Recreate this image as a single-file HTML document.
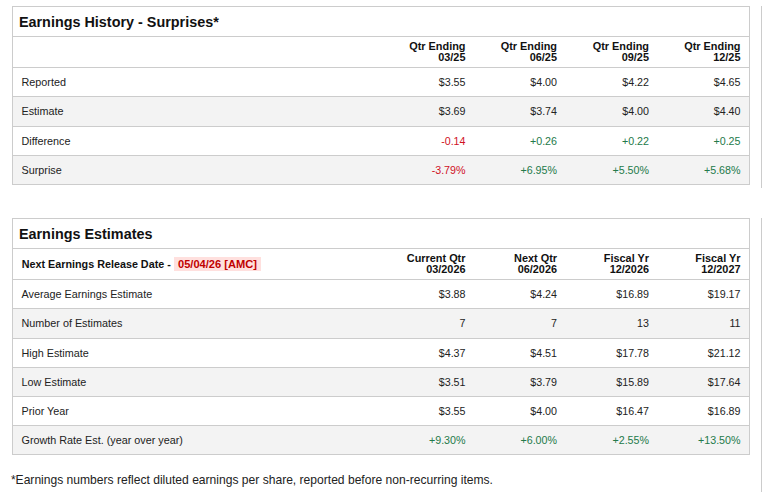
<!DOCTYPE html>
<html><head><meta charset="utf-8"><style>
html,body{margin:0;padding:0;background:#fff;width:762px;height:492px;overflow:hidden}
body{position:relative;font-family:"Liberation Sans",sans-serif}
.t{position:absolute;line-height:0;white-space:nowrap}
.box{position:absolute;left:12px;width:736px;border:1px solid #cccccc}
.hl{position:absolute;left:12px;width:738px;height:1px;background:#cccccc}
.fill{position:absolute;left:13px;width:736px;background:#f3f3f3}
.pink{position:absolute;background:#ffe0de}
</style></head><body>
<div class="box" style="top:6px;height:177px"></div>
<div class="fill" style="top:97px;height:29px"></div>
<div class="fill" style="top:156px;height:28px"></div>
<div class="hl" style="top:36px"></div>
<div class="hl" style="top:67px"></div>
<div class="hl" style="top:96px"></div>
<div class="hl" style="top:126px"></div>
<div class="hl" style="top:155px"></div>
<div class="t" style="left:18.9px;top:22.01px;font-size:14.4px;color:#111;font-weight:bold;">Earnings History - Surprises*</div>
<div class="t" style="right:296.5px;top:46.223px;font-size:10.9px;color:#111;font-weight:bold;">Qtr Ending</div>
<div class="t" style="right:296.5px;top:57.223px;font-size:10.9px;color:#111;font-weight:bold;">03/25</div>
<div class="t" style="right:205px;top:46.223px;font-size:10.9px;color:#111;font-weight:bold;">Qtr Ending</div>
<div class="t" style="right:205px;top:57.223px;font-size:10.9px;color:#111;font-weight:bold;">06/25</div>
<div class="t" style="right:113px;top:46.223px;font-size:10.9px;color:#111;font-weight:bold;">Qtr Ending</div>
<div class="t" style="right:113px;top:57.223px;font-size:10.9px;color:#111;font-weight:bold;">09/25</div>
<div class="t" style="right:21.5px;top:46.223px;font-size:10.9px;color:#111;font-weight:bold;">Qtr Ending</div>
<div class="t" style="right:21.5px;top:57.223px;font-size:10.9px;color:#111;font-weight:bold;">12/25</div>
<div class="t" style="left:21.5px;top:82.258px;font-size:10.8px;color:#222;">Reported</div>
<div class="t" style="right:296.5px;top:82.292px;font-size:10.7px;color:#222;">$3.55</div>
<div class="t" style="right:205px;top:82.292px;font-size:10.7px;color:#222;">$4.00</div>
<div class="t" style="right:113px;top:82.292px;font-size:10.7px;color:#222;">$4.22</div>
<div class="t" style="right:21.5px;top:82.292px;font-size:10.7px;color:#222;">$4.65</div>
<div class="t" style="left:21.5px;top:111.258px;font-size:10.8px;color:#222;">Estimate</div>
<div class="t" style="right:296.5px;top:111.292px;font-size:10.7px;color:#222;">$3.69</div>
<div class="t" style="right:205px;top:111.292px;font-size:10.7px;color:#222;">$3.74</div>
<div class="t" style="right:113px;top:111.292px;font-size:10.7px;color:#222;">$4.00</div>
<div class="t" style="right:21.5px;top:111.292px;font-size:10.7px;color:#222;">$4.40</div>
<div class="t" style="left:21.5px;top:141.258px;font-size:10.8px;color:#222;">Difference</div>
<div class="t" style="right:296.5px;top:141.292px;font-size:10.7px;color:#d0101e;">-0.14</div>
<div class="t" style="right:205px;top:141.292px;font-size:10.7px;color:#237a4a;">+0.26</div>
<div class="t" style="right:113px;top:141.292px;font-size:10.7px;color:#237a4a;">+0.22</div>
<div class="t" style="right:21.5px;top:141.292px;font-size:10.7px;color:#237a4a;">+0.25</div>
<div class="t" style="left:21.5px;top:170.258px;font-size:10.8px;color:#222;">Surprise</div>
<div class="t" style="right:296.5px;top:170.292px;font-size:10.7px;color:#d0101e;">-3.79%</div>
<div class="t" style="right:205px;top:170.292px;font-size:10.7px;color:#237a4a;">+6.95%</div>
<div class="t" style="right:113px;top:170.292px;font-size:10.7px;color:#237a4a;">+5.50%</div>
<div class="t" style="right:21.5px;top:170.292px;font-size:10.7px;color:#237a4a;">+5.68%</div>
<div class="box" style="top:218px;height:235px"></div>
<div class="fill" style="top:309px;height:29px"></div>
<div class="fill" style="top:368px;height:28px"></div>
<div class="fill" style="top:426px;height:28px"></div>
<div class="hl" style="top:248px"></div>
<div class="hl" style="top:279px"></div>
<div class="hl" style="top:308px"></div>
<div class="hl" style="top:338px"></div>
<div class="hl" style="top:367px"></div>
<div class="hl" style="top:396px"></div>
<div class="hl" style="top:425px"></div>
<div class="t" style="left:18.9px;top:234.01px;font-size:14.4px;color:#111;font-weight:bold;">Earnings Estimates</div>
<div class="t" style="left:21.8px;top:264.268px;font-size:10.77px;color:#111;font-weight:bold">Next Earnings Release Date - </div><div class="pink" style="left:174px;top:257px;width:87px;height:14px"></div><div class="t" style="left:178px;top:264.268px;font-size:11.1px;color:#c00000;font-weight:bold">05/04/26 [AMC]</div>
<div class="t" style="right:296.5px;top:258.223px;font-size:10.9px;color:#111;font-weight:bold;">Current Qtr</div>
<div class="t" style="right:296.5px;top:269.223px;font-size:10.9px;color:#111;font-weight:bold;">03/2026</div>
<div class="t" style="right:205px;top:258.223px;font-size:10.9px;color:#111;font-weight:bold;">Next Qtr</div>
<div class="t" style="right:205px;top:269.223px;font-size:10.9px;color:#111;font-weight:bold;">06/2026</div>
<div class="t" style="right:113px;top:258.223px;font-size:10.9px;color:#111;font-weight:bold;">Fiscal Yr</div>
<div class="t" style="right:113px;top:269.223px;font-size:10.9px;color:#111;font-weight:bold;">12/2026</div>
<div class="t" style="right:21.5px;top:258.223px;font-size:10.9px;color:#111;font-weight:bold;">Fiscal Yr</div>
<div class="t" style="right:21.5px;top:269.223px;font-size:10.9px;color:#111;font-weight:bold;">12/2027</div>
<div class="t" style="left:21.5px;top:294.258px;font-size:10.8px;color:#222;">Average Earnings Estimate</div>
<div class="t" style="right:296.5px;top:294.292px;font-size:10.7px;color:#222;">$3.88</div>
<div class="t" style="right:205px;top:294.292px;font-size:10.7px;color:#222;">$4.24</div>
<div class="t" style="right:113px;top:294.292px;font-size:10.7px;color:#222;">$16.89</div>
<div class="t" style="right:21.5px;top:294.292px;font-size:10.7px;color:#222;">$19.17</div>
<div class="t" style="left:21.5px;top:323.258px;font-size:10.8px;color:#222;">Number of Estimates</div>
<div class="t" style="right:296.5px;top:323.292px;font-size:10.7px;color:#222;">7</div>
<div class="t" style="right:205px;top:323.292px;font-size:10.7px;color:#222;">7</div>
<div class="t" style="right:113px;top:323.292px;font-size:10.7px;color:#222;">13</div>
<div class="t" style="right:21.5px;top:323.292px;font-size:10.7px;color:#222;">11</div>
<div class="t" style="left:21.5px;top:353.258px;font-size:10.8px;color:#222;">High Estimate</div>
<div class="t" style="right:296.5px;top:353.292px;font-size:10.7px;color:#222;">$4.37</div>
<div class="t" style="right:205px;top:353.292px;font-size:10.7px;color:#222;">$4.51</div>
<div class="t" style="right:113px;top:353.292px;font-size:10.7px;color:#222;">$17.78</div>
<div class="t" style="right:21.5px;top:353.292px;font-size:10.7px;color:#222;">$21.12</div>
<div class="t" style="left:21.5px;top:382.258px;font-size:10.8px;color:#222;">Low Estimate</div>
<div class="t" style="right:296.5px;top:382.292px;font-size:10.7px;color:#222;">$3.51</div>
<div class="t" style="right:205px;top:382.292px;font-size:10.7px;color:#222;">$3.79</div>
<div class="t" style="right:113px;top:382.292px;font-size:10.7px;color:#222;">$15.89</div>
<div class="t" style="right:21.5px;top:382.292px;font-size:10.7px;color:#222;">$17.64</div>
<div class="t" style="left:21.5px;top:411.258px;font-size:10.8px;color:#222;">Prior Year</div>
<div class="t" style="right:296.5px;top:411.292px;font-size:10.7px;color:#222;">$3.55</div>
<div class="t" style="right:205px;top:411.292px;font-size:10.7px;color:#222;">$4.00</div>
<div class="t" style="right:113px;top:411.292px;font-size:10.7px;color:#222;">$16.47</div>
<div class="t" style="right:21.5px;top:411.292px;font-size:10.7px;color:#222;">$16.89</div>
<div class="t" style="left:21.5px;top:440.258px;font-size:10.8px;color:#222;">Growth Rate Est. (year over year)</div>
<div class="t" style="right:296.5px;top:440.292px;font-size:10.7px;color:#237a4a;">+9.30%</div>
<div class="t" style="right:205px;top:440.292px;font-size:10.7px;color:#237a4a;">+6.00%</div>
<div class="t" style="right:113px;top:440.292px;font-size:10.7px;color:#237a4a;">+2.55%</div>
<div class="t" style="right:21.5px;top:440.292px;font-size:10.7px;color:#237a4a;">+13.50%</div>
<div class="t" style="left:10.9px;top:479.814px;font-size:12.08px;color:#222;">*Earnings numbers reflect diluted earnings per share, reported before non-recurring items.</div>
<div style="position:absolute;left:761px;top:6px;width:1px;height:182px;background:#cccccc"></div>
<div style="position:absolute;left:761px;top:218px;width:1px;height:274px;background:#cccccc"></div>
</body></html>
